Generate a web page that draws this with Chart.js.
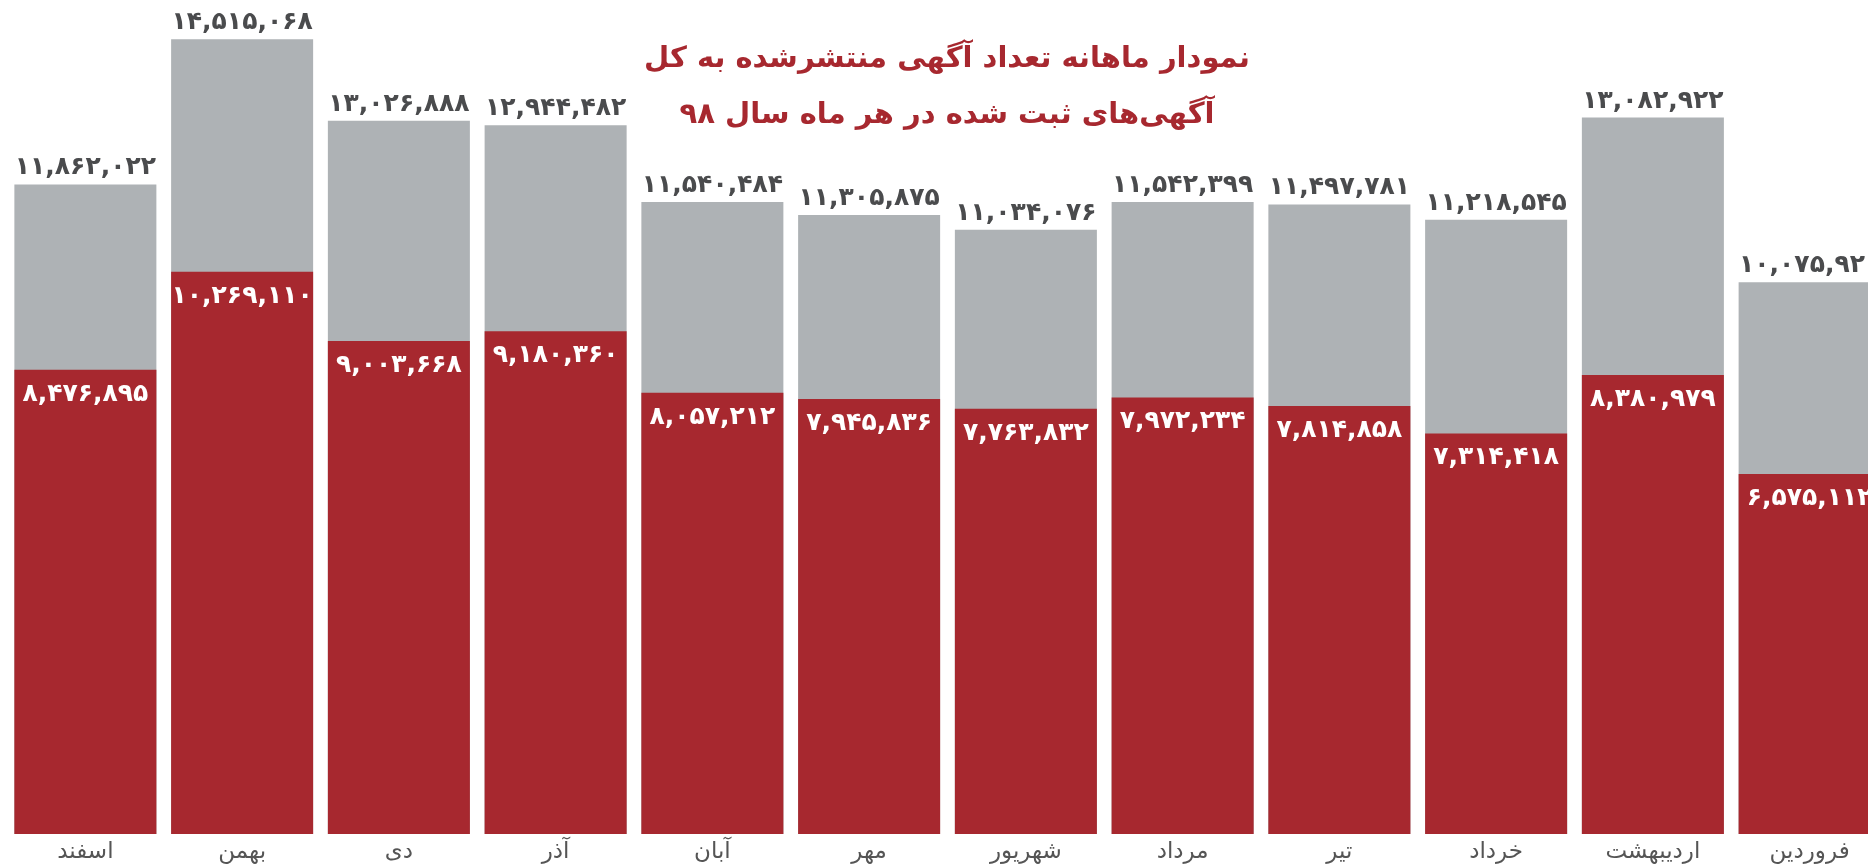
<!DOCTYPE html>
<html lang="fa">
<head>
<meta charset="utf-8">
<script src="https://cdn.jsdelivr.net/npm/chart.js@4"></script>
<style>
  html, body { margin: 0; padding: 0; background: #fff; overflow: hidden; }
  #wrap { width: 1888px; height: 867px; position: relative; }
</style>
</head>
<body>
<div id="wrap"><canvas id="barChart"></canvas></div>
<script>
// months of 1398, calendar order (drawn right to left)
const months = ['فروردین', 'اردیبهشت', 'خرداد', 'تیر', 'مرداد', 'شهریور', 'مهر', 'آبان', 'آذر', 'دی', 'بهمن', 'اسفند'];
// all registered ads (gray)
const totalAds = [10075920, 13082922, 11218545, 11497781, 11542399, 11034076, 11305875, 11540484, 12944482, 13026888, 14515068, 11862022];
// published ads (red)
const publishedAds = [6575112, 8380979, 7314418, 7814858, 7972234, 7763832, 7945836, 8057212, 9180360, 9003668, 10269110, 8476895];
const titleLines = ['نمودار ماهانه تعداد آگهی منتشرشده به کل', 'آگهی‌های ثبت شده در هر ماه سال ۹۸'];

const RED = '#a7282f';
const GRAY = '#aeb2b5';
const FONT = '"DejaVu Sans", "Noto Sans", sans-serif';

// 1,234 -> ۱,۲۳۴
function faNum(n) {
    return n.toLocaleString('en-US').replace(/\d/g, d => '۰۱۲۳۴۵۶۷۸۹'[d]);
}

// value labels + title drawn on top of the bars
const labelPlugin = {
    id: 'labelPlugin',
    afterDatasetsDraw(chart) {
        const ctx = chart.ctx;
        ctx.save();
        ctx.textAlign = 'center';

        const grayMeta = chart.getDatasetMeta(1);
        ctx.font = 'bold 25px ' + FONT;
        ctx.fillStyle = '#4a4b4d';
        ctx.textBaseline = 'bottom';
        grayMeta.data.forEach((bar, i) => {
            ctx.fillText(faNum(totalAds[i]), bar.x, bar.y - 4);
        });

        const redMeta = chart.getDatasetMeta(0);
        ctx.font = 'bold 25px ' + FONT;
        ctx.fillStyle = '#ffffff';
        ctx.textBaseline = 'top';
        redMeta.data.forEach((bar, i) => {
            ctx.fillText(faNum(publishedAds[i]), bar.x, bar.y + 12);
        });

        // title
        ctx.fillStyle = RED;
        ctx.font = 'bold 29px ' + FONT;
        ctx.textBaseline = 'middle';
        ctx.direction = 'rtl';
        ctx.fillText(titleLines[0], 947, 59);
        ctx.fillText(titleLines[1], 947, 115);
        ctx.restore();
    }
};

const ctx = document.getElementById('barChart').getContext('2d');
const barChart = new Chart(ctx, {
    type: 'bar',
    data: {
        labels: months,
        datasets: [
            {
                label: 'منتشرشده',
                data: publishedAds,
                backgroundColor: RED,
                grouped: false,
                barPercentage: 0.906,
                categoryPercentage: 1,
            },
            {
                label: 'کل',
                data: totalAds,
                backgroundColor: GRAY,
                grouped: false,
                barPercentage: 0.906,
                categoryPercentage: 1,
            },
        ],
    },
    options: {
        responsive: true,
        maintainAspectRatio: false,
        animation: false,
        layout: { padding: { left: 7, right: 0, top: 0, bottom: 0 } },
        plugins: {
            legend: { display: false },
            tooltip: { enabled: false },
        },
        scales: {
            x: {
                reverse: true,
                grid: { display: false, drawTicks: false },
                border: { display: false },
                ticks: {
                    color: '#555',
                    padding: 4,
                    font: { family: FONT, size: 23 },
                    maxRotation: 0,
                    autoSkip: false,
                },
                afterFit(scale) { scale.height = 33; },
            },
            y: {
                display: false,
                min: 0,
                max: 15230000,
            },
        },
    },
    plugins: [labelPlugin],
});
</script>
</body>
</html>
